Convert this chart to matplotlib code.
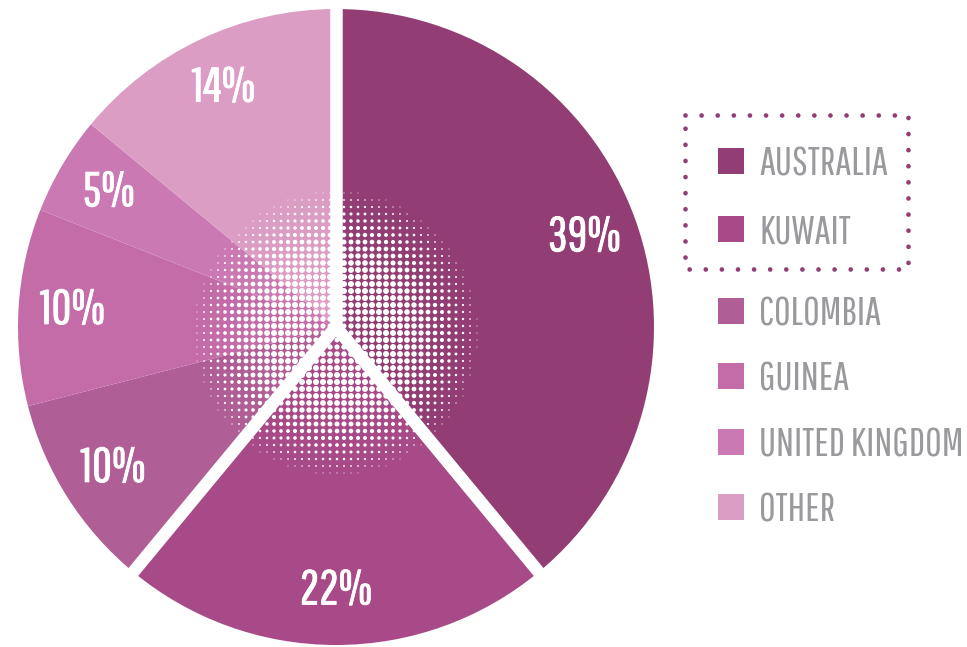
import matplotlib
matplotlib.use("Agg")
import matplotlib.pyplot as plt
import matplotlib.patheffects as pe
import numpy as np
from matplotlib.patches import Rectangle, Circle

plt.rcParams["font.family"] = ["Pathway Gothic One", "DejaVu Sans"]

countries = ["AUSTRALIA", "KUWAIT", "COLOMBIA", "GUINEA", "UNITED KINGDOM", "OTHER"]
shares = [39, 22, 10, 10, 5, 14]
colors = ["#923e75", "#a84a87", "#b05e96", "#c46ca8", "#cb79b2", "#dc9dc5"]

fig = plt.figure(figsize=(9.67, 6.47), dpi=100)
ax = fig.add_axes([0, 0, 1, 1])
ax.axis("off")

cx, cy, R = 336, 320, 318

wedges, _, pct = ax.pie(shares, colors=colors, startangle=90, counterclock=False,
                        center=(cx, cy), radius=R, autopct="%d%%", pctdistance=0.83,
                        textprops={"color": "white", "fontsize": 35},
                        wedgeprops={"linewidth": 0})
ax.set_xlim(0, 967)
ax.set_ylim(0, 647)
ax.set_aspect("equal")

# halftone texture around the pie centre
gx, gy = np.meshgrid(np.arange(cx - 160, cx + 160, 7.0), np.arange(cy - 160, cy + 160, 7.0))
gx, gy = gx.ravel(), gy.ravel()
rr = np.hypot(gx - cx, gy - cy + 6)
dia = 6.0 * (1 - ((rr - 50) / 100) ** 2)
keep = (dia > 0.9) & (rr < 150)
dots = ax.scatter(gx[keep], gy[keep], s=(dia[keep] * 0.72) ** 2, color="white",
                  linewidths=0, zorder=3)
dots.set_clip_path(Circle((cx, cy), R, transform=ax.transData))

# white gaps around the highlighted slices
for b in [0, shares[0], shares[0] + shares[1]]:
    ang = np.deg2rad(90 - b * 3.6)
    ax.plot([cx, cx + (R + 10) * np.cos(ang)], [cy, cy + (R + 10) * np.sin(ang)],
            color="white", lw=9, solid_capstyle="butt", zorder=4)

for t in pct:
    t.set_zorder(5)
    t.set_path_effects([pe.withStroke(linewidth=0.6, foreground="white")])

# legend
legend_y = [486, 418, 336, 271, 205, 140]
for name, col, y in zip(countries, colors, legend_y):
    ax.add_patch(Rectangle((718, y - 13), 26, 26, color=col, lw=0, zorder=5))
    ax.text(759, y, name, color="#9a9a9e", fontsize=29, va="center_baseline", ha="left", zorder=5)

bx0, bx1, by0, by1 = 685, 908, 378, 532
ax.plot([bx0, bx1, bx1, bx0, bx0], [by1, by1, by0, by0, by1], color="#923e75",
        lw=3.4, linestyle=(0, (0.01, 3.4)), dash_capstyle="round", zorder=5)

fig.savefig("out.png", dpi=100)
